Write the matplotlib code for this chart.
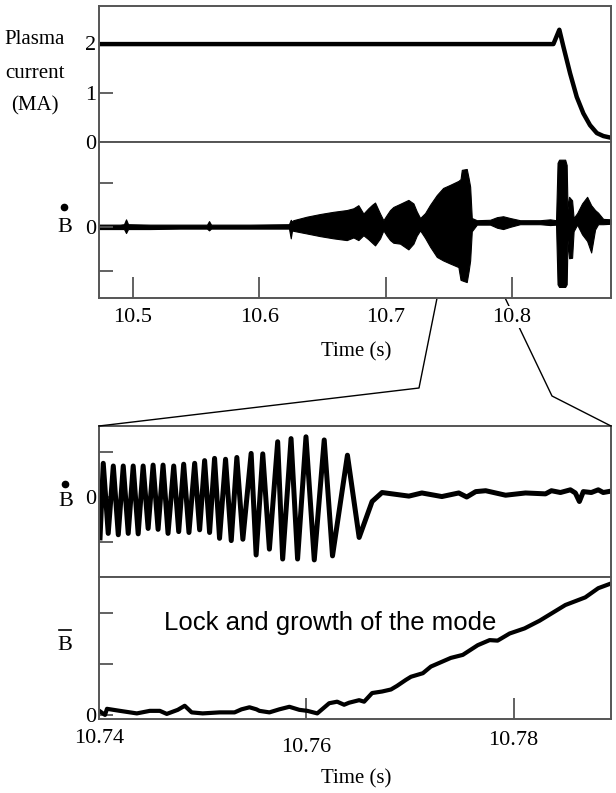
import matplotlib.pyplot as plt
import numpy as np
from matplotlib.lines import Line2D

plt.rcParams['font.family'] = ['Liberation Serif', 'DejaVu Serif']

# %% Data

# plasma current [MA]
ip_t = [10.4731, 10.8328, 10.8375, 10.8407, 10.8460, 10.8513, 10.8565,
        10.8618, 10.8672, 10.8724, 10.8777]
ip = [1.98, 1.98, 2.27, 1.93, 1.39, 0.91, 0.58, 0.34, 0.18, 0.12, 0.09]

# Bdot signal, upper panel (envelope of the dense trace)
bd_t = [10.4731, 10.4897, 10.4929, 10.4945, 10.4961, 10.5135, 10.5372,
        10.5586, 10.5602, 10.5618, 10.5927, 10.6235, 10.6249, 10.6259,
        10.6269, 10.6376, 10.6481, 10.6586, 10.6692, 10.6745, 10.6784,
        10.6824, 10.6863, 10.6893, 10.6916, 10.6956, 10.6982, 10.7009,
        10.7035, 10.7061, 10.7114, 10.7180, 10.7220, 10.7246, 10.7273,
        10.7312, 10.7352, 10.7405, 10.7455, 10.7510, 10.7576, 10.7593,
        10.7603, 10.7642, 10.7657, 10.7669, 10.7682, 10.7722, 10.7827,
        10.7882, 10.7930, 10.7985, 10.8064, 10.8223, 10.8302, 10.8349,
        10.8361, 10.8373, 10.8421, 10.8433, 10.8440, 10.8452, 10.8476,
        10.8488, 10.8516, 10.8555, 10.8595, 10.8627, 10.8658, 10.8682,
        10.8722, 10.8785]
bd_hi = [0.05, 0.05, 0.06, 0.17, 0.06, 0.05, 0.05,
         0.05, 0.13, 0.05, 0.05, 0.06, 0.16, 0.12,
         0.15, 0.23, 0.29, 0.34, 0.38, 0.42, 0.49,
         0.30, 0.42, 0.50, 0.55, 0.30, 0.15, 0.27,
         0.38, 0.45, 0.52, 0.61, 0.53, 0.35, 0.20,
         0.31, 0.50, 0.72, 0.88, 0.95, 1.04, 1.08,
         1.29, 1.31, 1.10, 0.91, 0.20, 0.15, 0.16,
         0.22, 0.24, 0.20, 0.15, 0.15, 0.17, 0.15,
         1.45, 1.52, 1.52, 1.40, 0.40, 0.68, 0.60,
         0.20, 0.31, 0.53, 0.68, 0.49, 0.38, 0.32,
         0.18, 0.17]
bd_lo = [-0.05, -0.05, -0.05, -0.14, -0.05, -0.05, -0.04,
         -0.04, -0.08, -0.04, -0.04, -0.04, -0.26, -0.08,
         -0.09, -0.15, -0.21, -0.26, -0.30, -0.24, -0.30,
         -0.19, -0.28, -0.36, -0.42, -0.26, -0.08, -0.20,
         -0.30, -0.36, -0.38, -0.51, -0.38, -0.20, -0.08,
         -0.25, -0.45, -0.68, -0.76, -0.83, -0.91, -1.20,
         -1.21, -1.25, -1.00, -0.76, -0.10, 0.05, 0.05,
         -0.02, -0.05, 0.00, 0.06, 0.06, 0.04, 0.05,
         -1.30, -1.36, -1.36, -1.30, -0.30, -0.71, -0.70,
         -0.10, 0.05, -0.17, -0.32, -0.58, -0.06, 0.06,
         0.06, 0.07]

# Bdot, zoomed panel
osc_t = [10.74010, 10.74041, 10.74089, 10.74138, 10.74186, 10.74234,
         10.74282, 10.74330, 10.74378, 10.74426, 10.74474, 10.74522,
         10.74570, 10.74618, 10.74666, 10.74721, 10.74769, 10.74817,
         10.74868, 10.74923, 10.74971, 10.75019, 10.75067, 10.75115,
         10.75163, 10.75221, 10.75276, 10.75330, 10.75388, 10.75468,
         10.75516, 10.75580, 10.75644, 10.75724, 10.75772, 10.75853,
         10.75916, 10.75997, 10.76077, 10.76173, 10.76253, 10.76397,
         10.76510, 10.76635, 10.76731, 10.76990, 10.77115, 10.77308,
         10.77471, 10.77548, 10.77635, 10.77731, 10.77923, 10.78115,
         10.78308, 10.78365, 10.78452, 10.78548, 10.78596, 10.78635,
         10.78673, 10.78750, 10.78817, 10.78865, 10.78913]
osc_v = [-0.91, 0.75, -0.81, 0.69, -0.84, 0.69,
         -0.81, 0.69, -0.82, 0.69, -0.70, 0.71,
         -0.72, 0.71, -0.81, 0.69, -0.77, 0.73,
         -0.79, 0.75, -0.73, 0.81, -0.79, 0.86,
         -0.92, 0.84, -0.97, 0.88, -0.94, 0.97,
         -1.29, 0.96, -1.16, 1.23, -1.38, 1.30,
         -1.38, 1.34, -1.40, 1.27, -1.31, 0.93,
         -0.90, -0.10, 0.10, 0.02, 0.09, 0.01,
         0.09, 0.00, 0.12, 0.14, 0.04, 0.09,
         0.07, 0.14, 0.10, 0.16, 0.09, -0.10,
         0.12, 0.10, 0.16, 0.10, 0.12]

# Bbar, zoomed panel
br_t = [10.74010, 10.74058, 10.74077, 10.74202, 10.74365, 10.74490,
        10.74587, 10.74654, 10.74760, 10.74827, 10.74894, 10.75000,
        10.75163, 10.75308, 10.75375, 10.75452, 10.75519, 10.75548,
        10.75644, 10.75740, 10.75837, 10.75933, 10.76010, 10.76106,
        10.76221, 10.76298, 10.76365, 10.76413, 10.76510, 10.76558,
        10.76635, 10.76731, 10.76817, 10.76875, 10.76962, 10.77010,
        10.77125, 10.77202, 10.77394, 10.77510, 10.77654, 10.77769,
        10.77846, 10.77962, 10.78106, 10.78250, 10.78500, 10.78692,
        10.78817, 10.78923]
br_v = [0.07, 0.00, 0.12, 0.08, 0.03, 0.08,
        0.08, 0.02, 0.10, 0.18, 0.05, 0.03,
        0.05, 0.05, 0.11, 0.15, 0.11, 0.08,
        0.05, 0.11, 0.16, 0.10, 0.08, 0.03,
        0.23, 0.26, 0.20, 0.24, 0.29, 0.26,
        0.43, 0.46, 0.50, 0.57, 0.69, 0.75,
        0.82, 0.95, 1.12, 1.18, 1.37, 1.47,
        1.46, 1.60, 1.70, 1.85, 2.16, 2.31,
        2.49, 2.57]

top_ticks = [10.5, 10.6, 10.7, 10.8]
top_labels = ['10.5', '10.6', '10.7', '10.8']
zoom_ticks = [10.74, 10.76, 10.78]
zoom_labels = ['10.74', '10.76', '10.78']
zoom_label_drop = [0.14, 0.20, 0.15]   # labels sit at uneven heights in the original

# %% Figure layout (pixel boxes of the original picture)
W, H = 616, 793

def box(l, t, r, b):
    return [l / W, 1 - b / H, (r - l) / W, (b - t) / H]

def style(ax):
    for s in ax.spines.values():
        s.set_color('#555555')
        s.set_linewidth(1.4)
    ax.tick_params(direction='in', length=10, width=1.3, color='#555555',
                   labelsize=16, pad=2)

fig = plt.figure(figsize=(6.16, 7.93), dpi=100)

ax1 = fig.add_axes(box(99, 6, 611, 142))
ax2 = fig.add_axes(box(99, 142, 611, 298))
ax3 = fig.add_axes(box(99, 426, 611, 577))
ax4 = fig.add_axes(box(99, 577, 611, 719))
for ax in (ax1, ax2, ax3, ax4):
    style(ax)

# plasma current
ax1.plot(ip_t, ip, color='k', lw=3.2, solid_joinstyle='round')
ax1.set_xlim(10.4731, 10.8784)
ax1.set_ylim(0, 2.75)
ax1.set_xticks([])
ax1.set_yticks([0, 1, 2])
ax1.set_yticklabels(['0', '1', '2'])

# Bdot, full time range
ax2.fill_between(bd_t, bd_lo, bd_hi, color='k', lw=0.8)
ax2.set_xlim(10.4731, 10.8784)
ax2.set_ylim(-1.61, 1.92)
ax2.set_yticks([-1, 0, 1])
ax2.set_yticklabels(['', '0', ''])
ax2.set_xticks(top_ticks)
ax2.set_xticklabels(top_labels)
ax2.tick_params(axis='x', length=15, pad=7)
ax2.set_zorder(3)
ax2.get_xticklabels()[3].set_bbox(dict(facecolor='white', edgecolor='none', pad=1))

# Bdot, zoom
ax3.plot(osc_t, osc_v, color='k', lw=3.6, solid_joinstyle='round')
ax3.set_xlim(10.74, 10.7894)
ax3.set_ylim(-1.78, 1.58)
ax3.set_xticks([])
ax3.set_yticks([-1, 0, 1])
ax3.set_yticklabels(['', '0', ''])

# Bbar, zoom
ax4.plot(br_t, br_v, color='k', lw=3.0, solid_joinstyle='round')
ax4.set_xlim(10.74, 10.7894)
ax4.set_ylim(-0.08, 2.71)
ax4.set_yticks([0, 1, 2])
ax4.set_yticklabels(['0', '', ''])
ax4.set_xticks(zoom_ticks[1:])
ax4.set_xticklabels([])
ax4.tick_params(axis='x', length=15)
for k in range(len(zoom_ticks)):
    ax4.text(zoom_ticks[k], -zoom_label_drop[k], zoom_labels[k],
             transform=ax4.get_xaxis_transform(), ha='center', va='center',
             fontsize=16)
ax4.text(164 / W, 1 - 630 / H, 'Lock and growth of the mode',
         transform=fig.transFigure, family='Liberation Sans', fontsize=18.5,
         va='baseline', ha='left')

# %% Labels
fig.text(35 / W, 1 - 40 / H, 'Plasma', ha='center', va='center', fontsize=15)
fig.text(35 / W, 1 - 73 / H, 'current', ha='center', va='center', fontsize=15)
fig.text(35 / W, 1 - 106 / H, '(MA)', ha='center', va='center', fontsize=15)

# B with dot (time derivative) and B with bar
fig.text(65 / W, 1 - 228 / H, 'B', ha='center', va='center', fontsize=16)
fig.add_artist(Line2D([64 / W], [1 - 207 / H], marker='o', ms=4.5,
                      color='k', ls='none'))
fig.text(66 / W, 1 - 502 / H, 'B', ha='center', va='center', fontsize=16)
fig.add_artist(Line2D([65 / W], [1 - 484 / H], marker='o', ms=4.5,
                      color='k', ls='none'))
fig.text(65 / W, 1 - 645 / H, 'B', ha='center', va='center', fontsize=16)
fig.add_artist(Line2D([59 / W, 71 / W], [1 - 630 / H, 1 - 630 / H],
                      color='k', lw=1.2))

fig.text(356 / W, 1 - 352 / H, 'Time (s)', ha='center', va='center', fontsize=15)
fig.text(356 / W, 1 - 779 / H, 'Time (s)', ha='center', va='center', fontsize=15)

# %% Zoom connection lines
to_fig = fig.transFigure.inverted()
yb = ax2.get_ylim()[0]
pl = to_fig.transform(ax2.transData.transform((10.7407, yb)))
pr = to_fig.transform(ax2.transData.transform((10.7946, yb)))
fig.add_artist(Line2D([pl[0], 419 / W, 99 / W], [pl[1], 1 - 388 / H, 1 - 426 / H],
                      color='k', lw=1.0))
fig.add_artist(Line2D([pr[0], 552 / W, 611 / W], [pr[1], 1 - 396 / H, 1 - 426 / H],
                      color='k', lw=1.0))

plt.savefig('out.png', dpi=100)
